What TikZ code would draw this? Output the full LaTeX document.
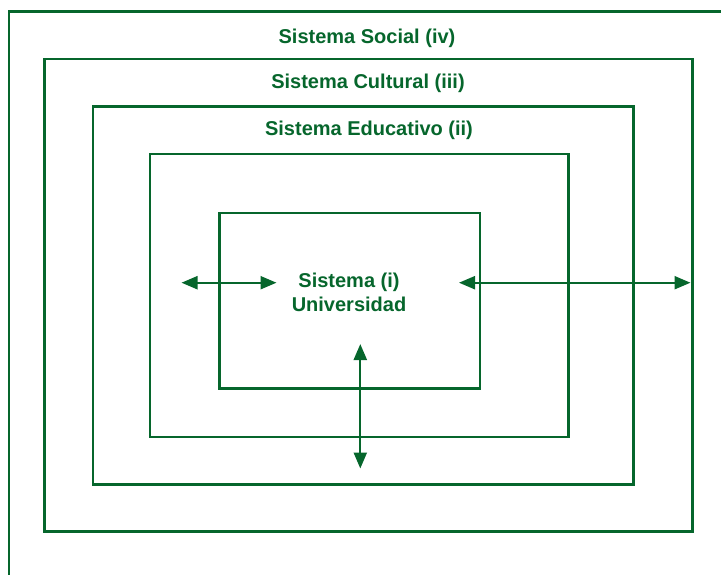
\documentclass[tikz,border=0pt]{standalone}
\usepackage{fontspec}
\setmainfont{Liberation Sans}
\usetikzlibrary{arrows.meta}
\definecolor{dg}{RGB}{6,102,44}
\tikzset{
  frame/.style={draw=dg, line width=2.4pt},
  lbl/.style={text=dg, font=\bfseries\fontsize{20}{24}\selectfont, align=center, inner sep=0pt},
  dblarrow/.style={draw=dg, line width=2.2pt, {Triangle[length=16pt,width=13pt]}-{Triangle[length=16pt,width=13pt]}}
}
\begin{document}
\begin{tikzpicture}[x=1pt,y=-1pt]
\useasboundingbox (0,0) rectangle (721,574);
\begin{scope}
\clip (0,0) rectangle (721,574);
\draw[frame] (8.7,11.3) rectangle (740,600);
\end{scope}
\draw[frame] (44.5,59) rectangle (692.3,531.5);
\draw[frame] (93,106.5) rectangle (633.3,484.5);
\draw[frame] (150,154) rectangle (568.5,437);
\draw[frame] (219.3,213) rectangle (480,388.5);
\node[lbl] (social) at (367,38) {Sistema Social (iv)};
\node[lbl] (cultural) at (368,83) {Sistema Cultural (iii)};
\node[lbl] (educ) at (369,130) {Sistema Educativo (ii)};
\node[lbl] (univ) at (349,292) {Sistema (i)\\Universidad};
\coordinate (l1) at (181.5,282.7);
\coordinate (l2) at (276.5,282.7);
\coordinate (r1) at (459,282.7);
\coordinate (r2) at (690.5,282.7);
\coordinate (v1) at (360.3,344);
\coordinate (v2) at (360.3,468.5);
\draw[dblarrow] (l1) -- (l2);
\draw[dblarrow] (r1) -- (r2);
\draw[dblarrow] (v1) -- (v2);
\end{tikzpicture}
\end{document}
